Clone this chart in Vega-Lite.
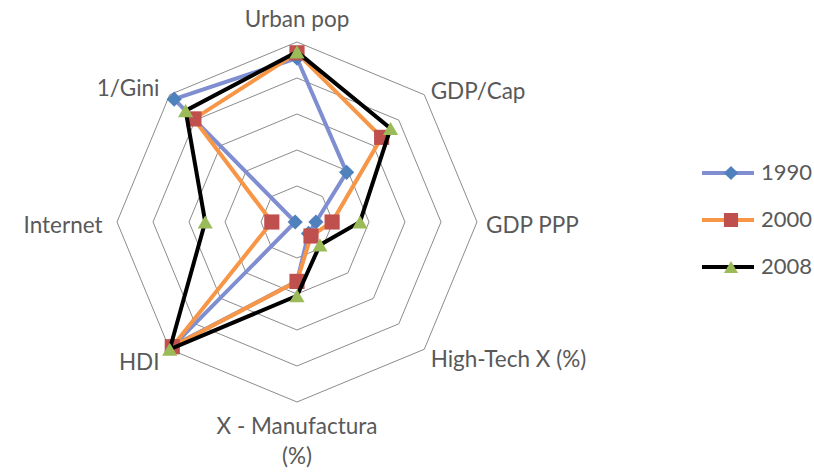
{
  "$schema": "https://vega.github.io/schema/vega-lite/v6.json",
  "width": 814,
  "height": 475,
  "autosize": {"type": "none"},
  "padding": 0,
  "background": "white",
  "config": {"view": {"stroke": null}, "font": "Lato"},
  "datasets": {
    "axes": [
      {"axis": "Urban pop", "label": "Urban pop", "rings": [0.2, 0.4, 0.6, 0.8, 1.0]},
      {"axis": "GDP/Cap", "label": "GDP/Cap", "rings": [0.2, 0.4, 0.6, 0.8, 1.0]},
      {"axis": "GDP PPP", "label": "GDP PPP", "rings": [0.2, 0.4, 0.6, 0.8, 1.0]},
      {"axis": "High-Tech X (%)", "label": "High-Tech X (%)", "rings": [0.2, 0.4, 0.6, 0.8, 1.0]},
      {"axis": "X - Manufactura (%)", "label": "X - Manufactura\n(%)", "rings": [0.2, 0.4, 0.6, 0.8, 1.0]},
      {"axis": "HDI", "label": "HDI", "rings": [0.2, 0.4, 0.6, 0.8, 1.0]},
      {"axis": "Internet", "label": "Internet", "rings": [0.2, 0.4, 0.6, 0.8, 1.0]},
      {"axis": "1/Gini", "label": "1/Gini", "rings": [0.2, 0.4, 0.6, 0.8, 1.0]}
    ],
    "series": [
      {"axis": "Urban pop", "year": "1990", "value": 0.91},
      {"axis": "GDP/Cap", "year": "1990", "value": 0.39},
      {"axis": "GDP PPP", "year": "1990", "value": 0.105},
      {"axis": "High-Tech X (%)", "year": "1990", "value": 0.09},
      {"axis": "X - Manufactura (%)", "year": "1990", "value": 0.33},
      {"axis": "HDI", "year": "1990", "value": 0.97},
      {"axis": "Internet", "year": "1990", "value": 0.01},
      {"axis": "1/Gini", "year": "1990", "value": 0.965},
      {"axis": "Urban pop", "year": "2000", "value": 0.94},
      {"axis": "GDP/Cap", "year": "2000", "value": 0.665},
      {"axis": "GDP PPP", "year": "2000", "value": 0.195},
      {"axis": "High-Tech X (%)", "year": "2000", "value": 0.11},
      {"axis": "X - Manufactura (%)", "year": "2000", "value": 0.33},
      {"axis": "HDI", "year": "2000", "value": 0.98},
      {"axis": "Internet", "year": "2000", "value": 0.14},
      {"axis": "1/Gini", "year": "2000", "value": 0.81},
      {"axis": "Urban pop", "year": "2008", "value": 0.945},
      {"axis": "GDP/Cap", "year": "2008", "value": 0.735},
      {"axis": "GDP PPP", "year": "2008", "value": 0.35},
      {"axis": "High-Tech X (%)", "year": "2008", "value": 0.18},
      {"axis": "X - Manufactura (%)", "year": "2008", "value": 0.41},
      {"axis": "HDI", "year": "2008", "value": 1.0},
      {"axis": "Internet", "year": "2008", "value": 0.51},
      {"axis": "1/Gini", "year": "2008", "value": 0.875}
    ]
  },
  "layer": [
    {
      "data": {"name": "axes"},
      "transform": [
        {"flatten": ["rings"], "as": ["ring"]},
        {"calculate": "indexof(['Urban pop','GDP/Cap','GDP PPP','High-Tech X (%)','X - Manufactura (%)','HDI','Internet','1/Gini'], datum.axis)", "as": "i"},
        {"calculate": "datum.ring * sin(datum.i * PI / 4)", "as": "px"},
        {"calculate": "datum.ring * cos(datum.i * PI / 4)", "as": "py"}
      ],
      "mark": {"type": "line", "interpolate": "linear-closed", "stroke": "#8c8c8c", "strokeWidth": 1},
      "encoding": {
        "x": {"field": "px", "type": "quantitative", "scale": {"domain": [-1.65, 2.8722], "nice": false, "zero": false}, "axis": null},
        "y": {"field": "py", "type": "quantitative", "scale": {"domain": [-1.4056, 1.2333], "nice": false, "zero": false}, "axis": null},
        "detail": {"field": "ring", "type": "nominal"},
        "order": {"field": "i", "type": "quantitative"}
      }
    },
    {
      "data": {"name": "series"},
      "transform": [
        {"calculate": "indexof(['Urban pop','GDP/Cap','GDP PPP','High-Tech X (%)','X - Manufactura (%)','HDI','Internet','1/Gini'], datum.axis)", "as": "i"},
        {"calculate": "datum.value * sin(datum.i * PI / 4)", "as": "px"},
        {"calculate": "datum.value * cos(datum.i * PI / 4)", "as": "py"}
      ],
      "encoding": {
        "x": {"field": "px", "type": "quantitative", "scale": {"domain": [-1.65, 2.8722], "nice": false, "zero": false}, "axis": null},
        "y": {"field": "py", "type": "quantitative", "scale": {"domain": [-1.4056, 1.2333], "nice": false, "zero": false}, "axis": null},
        "order": {"field": "i", "type": "quantitative"}
      },
      "layer": [
        {
          "transform": [{"filter": "datum.year === '1990'"}],
          "mark": {"type": "line", "interpolate": "linear-closed", "strokeWidth": 4},
          "encoding": {
            "stroke": {"field": "year", "type": "nominal",
              "scale": {"domain": ["1990", "2000", "2008"], "range": ["#7F8ED0", "#F79646", "#000000"]},
              "legend": {"orient": "none", "legendX": 700, "legendY": 149.5, "title": null, "symbolType": "stroke", "symbolSize": 2704, "symbolStrokeWidth": 4, "clipHeight": 47, "rowPadding": 0, "padding": 0, "labelFontSize": 22, "labelFont": "Lato", "labelColor": "#595959", "labelOffset": 5}}
          }
        },
        {
          "transform": [{"filter": "datum.year === '1990'"}],
          "mark": {"type": "point", "filled": true, "opacity": 1, "size": 230},
          "encoding": {
            "fill": {"field": "year", "type": "nominal",
              "scale": {"range": ["#4F81BD", "#C0504D", "#9BBB59"]},
              "legend": {"orient": "none", "legendX": 720, "legendY": 149.5, "title": null, "symbolSize": 200, "clipHeight": 47, "rowPadding": 0, "padding": 0, "labelFontSize": 22, "labelExpr": "''", "labelOffset": 0}},
            "shape": {"field": "year", "type": "nominal", "scale": {"range": ["diamond", "square", "triangle-up"]},
              "legend": {"orient": "none", "legendX": 720, "legendY": 149.5, "title": null, "symbolSize": 200, "clipHeight": 47, "rowPadding": 0, "padding": 0, "labelFontSize": 22, "labelExpr": "''", "labelOffset": 0}}
          }
        },
        {
          "transform": [{"filter": "datum.year === '2000'"}],
          "mark": {"type": "line", "interpolate": "linear-closed", "strokeWidth": 4},
          "encoding": {
            "stroke": {"field": "year", "type": "nominal",
              "scale": {"domain": ["1990", "2000", "2008"], "range": ["#7F8ED0", "#F79646", "#000000"]},
              "legend": {"orient": "none", "legendX": 700, "legendY": 149.5, "title": null, "symbolType": "stroke", "symbolSize": 2704, "symbolStrokeWidth": 4, "clipHeight": 47, "rowPadding": 0, "padding": 0, "labelFontSize": 22, "labelFont": "Lato", "labelColor": "#595959", "labelOffset": 5}}
          }
        },
        {
          "transform": [{"filter": "datum.year === '2000'"}],
          "mark": {"type": "point", "filled": true, "opacity": 1, "size": 230},
          "encoding": {
            "fill": {"field": "year", "type": "nominal",
              "scale": {"range": ["#4F81BD", "#C0504D", "#9BBB59"]},
              "legend": {"orient": "none", "legendX": 720, "legendY": 149.5, "title": null, "symbolSize": 200, "clipHeight": 47, "rowPadding": 0, "padding": 0, "labelFontSize": 22, "labelExpr": "''", "labelOffset": 0}},
            "shape": {"field": "year", "type": "nominal", "scale": {"range": ["diamond", "square", "triangle-up"]},
              "legend": {"orient": "none", "legendX": 720, "legendY": 149.5, "title": null, "symbolSize": 200, "clipHeight": 47, "rowPadding": 0, "padding": 0, "labelFontSize": 22, "labelExpr": "''", "labelOffset": 0}}
          }
        },
        {
          "transform": [{"filter": "datum.year === '2008'"}],
          "mark": {"type": "line", "interpolate": "linear-closed", "strokeWidth": 4},
          "encoding": {
            "stroke": {"field": "year", "type": "nominal",
              "scale": {"domain": ["1990", "2000", "2008"], "range": ["#7F8ED0", "#F79646", "#000000"]},
              "legend": {"orient": "none", "legendX": 700, "legendY": 149.5, "title": null, "symbolType": "stroke", "symbolSize": 2704, "symbolStrokeWidth": 4, "clipHeight": 47, "rowPadding": 0, "padding": 0, "labelFontSize": 22, "labelFont": "Lato", "labelColor": "#595959", "labelOffset": 5}}
          }
        },
        {
          "transform": [{"filter": "datum.year === '2008'"}],
          "mark": {"type": "point", "filled": true, "opacity": 1, "size": 230},
          "encoding": {
            "fill": {"field": "year", "type": "nominal",
              "scale": {"range": ["#4F81BD", "#C0504D", "#9BBB59"]},
              "legend": {"orient": "none", "legendX": 720, "legendY": 149.5, "title": null, "symbolSize": 200, "clipHeight": 47, "rowPadding": 0, "padding": 0, "labelFontSize": 22, "labelExpr": "''", "labelOffset": 0}},
            "shape": {"field": "year", "type": "nominal", "scale": {"range": ["diamond", "square", "triangle-up"]},
              "legend": {"orient": "none", "legendX": 720, "legendY": 149.5, "title": null, "symbolSize": 200, "clipHeight": 47, "rowPadding": 0, "padding": 0, "labelFontSize": 22, "labelExpr": "''", "labelOffset": 0}}
          }
        }
      ]
    },
    {
      "data": {"name": "axes"},
      "transform": [
        {"calculate": "indexof(['Urban pop','GDP/Cap','GDP PPP','High-Tech X (%)','X - Manufactura (%)','HDI','Internet','1/Gini'], datum.axis)", "as": "i"}
      ],
      "encoding": {
        "x": {"field": "px", "type": "quantitative", "scale": {"domain": [-1.65, 2.8722], "nice": false, "zero": false}, "axis": null},
        "y": {"field": "py", "type": "quantitative", "scale": {"domain": [-1.4056, 1.2333], "nice": false, "zero": false}, "axis": null},
        "text": {"field": "label", "type": "nominal"}
      },
      "layer": [
        {
          "transform": [
            {"filter": "datum.i === 0"},
            {"calculate": "1.12 * sin(datum.i * PI / 4)", "as": "px"},
            {"calculate": "1.12 * cos(datum.i * PI / 4)", "as": "py"}
          ],
          "mark": {"type": "text", "align": "center", "baseline": "middle", "fontSize": 22.5, "font": "Lato", "color": "#595959"}
        },
        {
          "transform": [
            {"filter": "datum.i === 4"},
            {"calculate": "1.08 * sin(datum.i * PI / 4)", "as": "px"},
            {"calculate": "1.08 * cos(datum.i * PI / 4)", "as": "py"}
          ],
          "mark": {"type": "text", "align": "center", "baseline": "top", "lineBreak": "\n", "lineHeight": 30, "fontSize": 22.5, "font": "Lato", "color": "#595959"}
        },
        {
          "transform": [
            {"filter": "datum.i >= 1 && datum.i <= 3"},
            {"calculate": "1.05 * sin(datum.i * PI / 4)", "as": "px"},
            {"calculate": "1.05 * cos(datum.i * PI / 4)", "as": "py"}
          ],
          "mark": {"type": "text", "align": "left", "baseline": "middle", "dy": 4, "fontSize": 22.5, "font": "Lato", "color": "#595959"}
        },
        {
          "transform": [
            {"filter": "datum.i >= 5"},
            {"calculate": "1.08 * sin(datum.i * PI / 4)", "as": "px"},
            {"calculate": "1.08 * cos(datum.i * PI / 4)", "as": "py"}
          ],
          "mark": {"type": "text", "align": "right", "baseline": "middle", "dy": 4, "fontSize": 22.5, "font": "Lato", "color": "#595959"}
        }
      ]
    }
  ]
}
